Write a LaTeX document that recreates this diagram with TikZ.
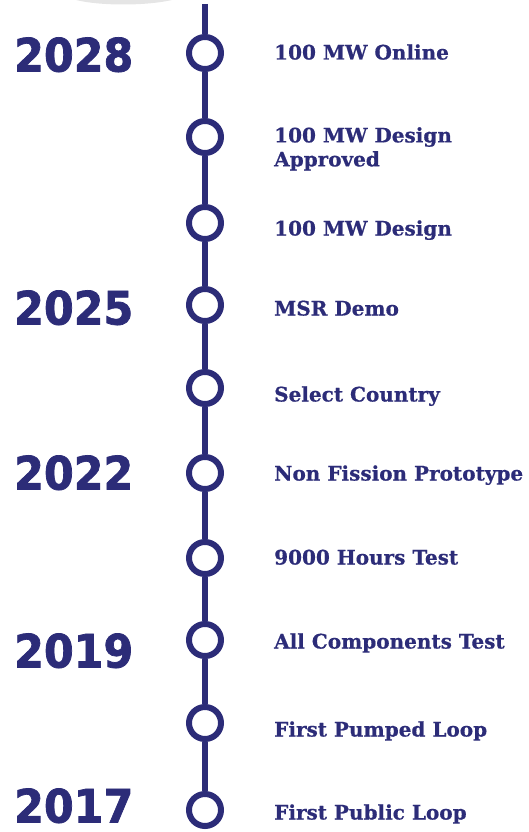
\documentclass[tikz,border=0pt]{standalone}
\usepackage{fontspec}
\usepackage{xcolor}
\usepackage{tikz}
\usetikzlibrary{positioning}
\newfontfamily\yearfont{DejaVu Sans}[FakeStretch=0.93, BoldFeatures={FakeBold=1.6}]
\newfontfamily\slabfont{DejaVu Serif}[BoldFeatures={FakeBold=0.6}]
\definecolor{navy}{RGB}{44,44,120}
\tikzset{x=1pt, y=-1pt,
         spine/.style={navy, line width=5.5pt},
         milestone/.style={circle, draw=navy, line width=6pt, fill=white,
                           minimum size=32pt, inner sep=0pt},
         year/.style={anchor=west, inner sep=0pt, text=navy, text height=33pt, text depth=0pt,
                      font=\yearfont\bfseries\fontsize{46}{50}\selectfont},
         event/.style={anchor=west, inner sep=0pt, text=navy, text height=15pt, text depth=0pt,
                       font=\slabfont\bfseries\fontsize{20}{24}\selectfont},
         eventtwo/.style={inner sep=0pt, text=navy, align=left,
                          font=\slabfont\bfseries\fontsize{20}{24}\selectfont},
         }

\begin{document}
\begin{tikzpicture}
    \useasboundingbox (0,0) rectangle (529,832);
    % shadow of the picture above
    \fill[black!10] (76,0) .. controls (100,6) and (146,6) .. (172,0) -- cycle;

    \coordinate (top) at (205,4);
    \node[milestone] (m1) at (205,53) {};
    \node[milestone] (m2) at (205,137) {};
    \node[milestone] (m3) at (205,223) {};
    \node[milestone] (m4) at (205,305) {};
    \node[milestone] (m5) at (205,388) {};
    \node[milestone] (m6) at (205,473) {};
    \node[milestone] (m7) at (205,558) {};
    \node[milestone] (m8) at (205,640) {};
    \node[milestone] (m9) at (205,723) {};
    \node[milestone] (m10) at (205,810) {};

    \draw[spine] (top) -- (m1);
    \draw[spine] (m1) -- (m2);
    \draw[spine] (m2) -- (m3);
    \draw[spine] (m3) -- (m4);
    \draw[spine] (m4) -- (m5);
    \draw[spine] (m5) -- (m6);
    \draw[spine] (m6) -- (m7);
    \draw[spine] (m7) -- (m8);
    \draw[spine] (m8) -- (m9);
    \draw[spine] (m9) -- (m10);

    % years
    \node[year] (y2028) at (14,55) {2028};
    \node[year] (y2025) at (14,308) {2025};
    \node[year] (y2022) at (14,473) {2022};
    \node[year] (y2019) at (14,651) {2019};
    \node[year] (y2017) at (14,806) {2017};

    % events
    \node[event, right=50pt of m1, yshift=1pt] (e1) {100 MW Online};
    \node[eventtwo, right=50pt of m2, anchor=north west, yshift=10pt] (e2) {100 MW Design\\Approved};
    \node[event, right=50pt of m3, yshift=-5pt] (e3) {100 MW Design};
    \node[event, right=50pt of m4, yshift=-3pt] (e4) {MSR Demo};
    \node[event, right=50pt of m5, yshift=-6pt] (e5) {Select Country};
    \node[event, right=50pt of m6] (e6) {Non Fission Prototype};
    \node[event, right=50pt of m7, yshift=1pt] (e7) {9000 Hours Test};
    \node[event, right=50pt of m8, yshift=-1pt] (e8) {All Components Test};
    \node[event, right=50pt of m9, yshift=-6pt] (e9) {First Pumped Loop};
    \node[event, right=50pt of m10, yshift=-2pt] (e10) {First Public Loop};
\end{tikzpicture}
\end{document}
